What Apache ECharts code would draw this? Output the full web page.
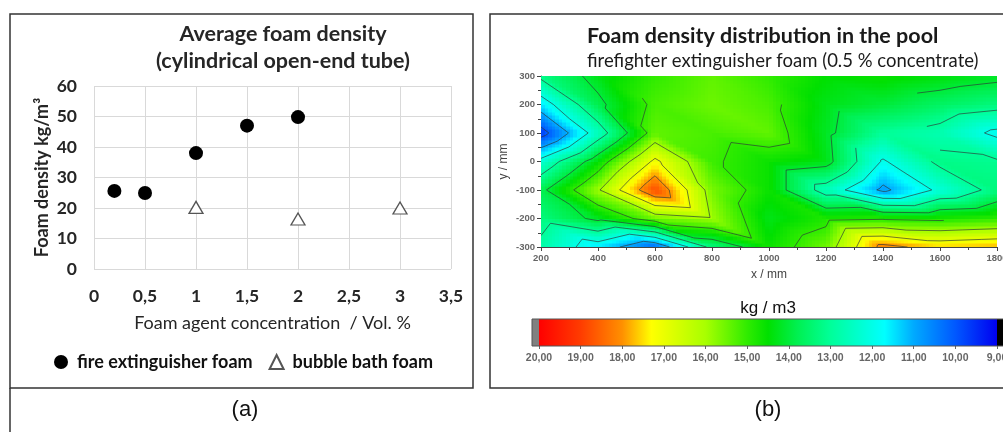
<!DOCTYPE html>
<html>
<head>
<meta charset="utf-8">
<script src="https://cdn.jsdelivr.net/npm/echarts@6/dist/echarts.min.js"></script>
<style>
  html, body { margin: 0; padding: 0; background: #fff; }
  #main { width: 1003px; height: 432px; }
</style>
</head>
<body>
<div id="main"></div>
<script>
// (a) average foam density, cylindrical open-end tube
var fireConc = [0.2, 0.5, 1, 1.5, 2];
var fireDensity = [25.6, 24.9, 38, 47, 49.8];
var bathConc = [1, 2, 3];
var bathDensity = [20.2, 16.4, 20];

// (b) foam density in the pool (kg/m3) at the measuring grid
var poolX = [200, 400, 600, 800, 1000, 1200, 1400, 1600, 1800];
var poolY = [300, 200, 100, 0, -100, -200, -300];
var rowY300 = [13.2, 14.3, 15.0, 15.4, 15.0, 14.5, 14.6, 14.4, 14.2];
var rowY200 = [11.5, 13.8, 15.2, 15.5, 15.2, 14.3, 14.0, 13.6, 13.3];
var rowY100 = [9.6, 12.5, 15.4, 15.2, 15.4, 14.2, 13.0, 12.7, 11.8];
var rowY0 = [12.3, 14.5, 17.2, 15.1, 14.6, 14.3, 11.9, 13.2, 13.1];
var rowYm100 = [13.8, 15.9, 18.8, 15.6, 14.6, 12.6, 10.8, 12.2, 13.3];
var rowYm200 = [13.3, 14.2, 15.5, 15.9, 14.3, 14.8, 14.9, 14.8, 15.0];
var rowYm300 = [12.8, 11.5, 10.2, 13.3, 14.6, 15.5, 18.3, 17.6, 17.8];
var poolDensity = [rowY300, rowY200, rowY100, rowY0, rowYm100, rowYm200, rowYm300];

var contourLevels = [10, 11, 12, 13, 14, 15, 16, 17, 18, 19];
var colorbarMin = 9;
var colorbarMax = 20;

// colour scale of the colour bar (value -> colour)
var colorStops = [
  [20, '#ff0000'], [19, '#ff3c00'], [18, '#ff9000'], [17.3, '#ffff00'],
  [16, '#a8ff00'], [15, '#30ec00'], [14.5, '#00e000'], [13.8, '#00f050'],
  [13, '#00ff99'], [11.7, '#00ffff'], [11, '#00aaff'], [10, '#0058ff'], [9, '#0000f0']
];

function hexRgb(h) {
  return [parseInt(h.substr(1, 2), 16), parseInt(h.substr(3, 2), 16), parseInt(h.substr(5, 2), 16)];
}
function colorOf(v) {
  if (v >= colorStops[0][0]) return colorStops[0][1];
  for (var k = 1; k < colorStops.length; k++) {
    var a = colorStops[k - 1], b = colorStops[k];
    if (v >= b[0]) {
      var t = (a[0] - v) / (a[0] - b[0]);
      var ca = hexRgb(a[1]), cb = hexRgb(b[1]);
      return 'rgb(' + Math.round(ca[0] + (cb[0] - ca[0]) * t) + ',' +
        Math.round(ca[1] + (cb[1] - ca[1]) * t) + ',' +
        Math.round(ca[2] + (cb[2] - ca[2]) * t) + ')';
    }
  }
  return colorStops[colorStops.length - 1][1];
}

// one item per grid cell: [x0, y0, x1, y1, v00, v10, v01, v11]
var cells = [];
for (var r = 0; r < poolY.length - 1; r++) {
  for (var c = 0; c < poolX.length - 1; c++) {
    cells.push([
      poolX[c], poolY[r + 1], poolX[c + 1], poolY[r],
      poolDensity[r + 1][c], poolDensity[r + 1][c + 1],
      poolDensity[r][c], poolDensity[r][c + 1]
    ]);
  }
}

function renderCell(params, api) {
  var v00 = api.value(4), v10 = api.value(5), v01 = api.value(6), v11 = api.value(7);
  var p0 = api.coord([api.value(0), api.value(1)]);
  var p1 = api.coord([api.value(2), api.value(3)]);
  var dx = p1[0] - p0[0], dy = p1[1] - p0[1];
  // linear interpolation on two triangles split along the top-left / bottom-right diagonal
  function val(u, v) {
    if (u + v <= 1) return v00 + u * (v10 - v00) + v * (v01 - v00);
    return v11 + (1 - u) * (v01 - v11) + (1 - v) * (v10 - v11);
  }
  var children = [];
  var nx = 16, ny = 8;
  for (var i = 0; i < nx; i++) {
    var xa = Math.round(p0[0] + dx * i / nx), xb = Math.round(p0[0] + dx * (i + 1) / nx);
    for (var j = 0; j < ny; j++) {
      var ya = Math.round(p0[1] + dy * j / ny), yb = Math.round(p0[1] + dy * (j + 1) / ny);
      children.push({
        type: 'rect',
        shape: { x: xa, y: Math.min(ya, yb), width: xb - xa + 0.5, height: Math.abs(yb - ya) + 0.5 },
        style: { fill: colorOf(val((i + 0.5) / nx, (j + 0.5) / ny)) },
        silent: true
      });
    }
  }
  var tris = [
    [[0, 0, v00], [1, 0, v10], [0, 1, v01]],
    [[1, 0, v10], [1, 1, v11], [0, 1, v01]]
  ];
  tris.forEach(function (t) {
    contourLevels.forEach(function (L) {
      var pts = [];
      for (var e = 0; e < 3; e++) {
        var a = t[e], b = t[(e + 1) % 3];
        if ((a[2] - L) * (b[2] - L) < 0) {
          var s = (L - a[2]) / (b[2] - a[2]);
          var u = a[0] + (b[0] - a[0]) * s, v = a[1] + (b[1] - a[1]) * s;
          pts.push([p0[0] + dx * u, p0[1] + dy * v]);
        }
      }
      if (pts.length === 2) {
        children.push({
          type: 'line',
          shape: { x1: pts[0][0], y1: pts[0][1], x2: pts[1][0], y2: pts[1][1] },
          style: { stroke: 'rgba(45,55,55,0.75)', lineWidth: 0.9 },
          silent: true
        });
      }
    });
  });
  return { type: 'group', children: children };
}

function renderColorbar(params, api) {
  var a = api.coord([colorbarMax, 0]);
  var b = api.coord([colorbarMin, 1]);
  var stops = colorStops.map(function (s) {
    return { offset: (colorbarMax - s[0]) / (colorbarMax - colorbarMin), color: s[1] };
  });
  var h = a[1] - b[1];
  return {
    type: 'group',
    children: [
      { type: 'rect', shape: { x: a[0] - 7, y: b[1], width: 7, height: h }, style: { fill: '#808080' } },
      { type: 'rect', shape: { x: b[0], y: b[1], width: 8, height: h }, style: { fill: '#000' } },
      {
        type: 'rect', shape: { x: a[0], y: b[1], width: b[0] - a[0], height: h },
        style: { fill: new echarts.graphic.LinearGradient(0, 0, 1, 0, stops) }
      },
      {
        type: 'rect', shape: { x: a[0] - 7, y: b[1], width: b[0] - a[0] + 15, height: h },
        style: { fill: 'none', stroke: '#555', lineWidth: 1 }
      }
    ]
  };
}

var calibri = 'Lato, "Noto Sans", sans-serif';
var arial = '"Liberation Sans", Arial, sans-serif';
var commaFmt = function (v) { return String(v).replace('.', ','); };
var plainFmt = function (v) { return String(v); };

var chart = echarts.init(document.getElementById('main'));
chart.setOption({
  backgroundColor: '#fff',
  animation: false,
  graphic: [
    { type: 'rect', shape: { x: 10, y: 14, width: 463, height: 374 }, style: { fill: 'none', stroke: '#333', lineWidth: 1.5 } },
    { type: 'rect', shape: { x: 490, y: 14, width: 530, height: 374 }, style: { fill: 'none', stroke: '#333', lineWidth: 1.5 } },
    { type: 'line', shape: { x1: 10, y1: 388, x2: 10, y2: 432 }, style: { stroke: '#333', lineWidth: 1.5 } },
    { type: 'text', x: 283, y: 34, style: { text: 'Average foam density', font: 'bold 21.5px ' + calibri, fill: '#262626', align: 'center', verticalAlign: 'middle' } },
    { type: 'text', x: 283, y: 61, style: { text: '(cylindrical open-end tube)', font: 'bold 21.5px ' + calibri, fill: '#262626', align: 'center', verticalAlign: 'middle' } },
    { type: 'text', x: 587, y: 36, style: { text: 'Foam density distribution in the pool', font: 'bold 21.5px ' + calibri, fill: '#1a1a1a', align: 'left', verticalAlign: 'middle' } },
    { type: 'text', x: 587, y: 61, style: { text: 'firefighter extinguisher foam (0.5 % concentrate)', font: '18.5px ' + calibri, fill: '#1a1a1a', align: 'left', verticalAlign: 'middle' } },
    { type: 'text', x: 768, y: 308, style: { text: 'kg / m3', font: '17px ' + arial, fill: '#111', align: 'center', verticalAlign: 'middle' } },
    { type: 'text', x: 245, y: 410, style: { text: '(a)', font: '22px ' + arial, fill: '#111', align: 'center', verticalAlign: 'middle' } },
    { type: 'text', x: 768, y: 410, style: { text: '(b)', font: '22px ' + arial, fill: '#111', align: 'center', verticalAlign: 'middle' } }
  ],
  legend: {
    left: 49, top: 348, itemGap: 16, itemWidth: 14, itemHeight: 14,
    textStyle: { fontFamily: calibri, fontWeight: 'bold', fontSize: 18, color: '#111', padding: [0, 0, 0, 4] },
    data: ['fire extinguisher foam', 'bubble bath foam']
  },
  grid: [
    { left: 94, top: 86, width: 357, height: 183, outerBoundsMode: 'none' },
    { left: 541, top: 76, width: 456, height: 171, outerBoundsMode: 'none' },
    { left: 539, top: 319, width: 458, height: 27, outerBoundsMode: 'none' }
  ],
  xAxis: [
    {
      gridIndex: 0, type: 'value', min: 0, max: 3.5, interval: 0.5,
      name: 'Foam agent concentration  / Vol. %', nameLocation: 'middle', nameGap: 45,
      nameTextStyle: { fontFamily: calibri, fontSize: 18, color: '#262626' },
      axisLine: { show: false }, axisTick: { show: false },
      axisLabel: { formatter: commaFmt, fontFamily: calibri, fontWeight: 'bold', fontSize: 17.5, color: '#262626', margin: 18 },
      splitLine: { lineStyle: { color: '#d9d9d9' } }
    },
    {
      gridIndex: 1, type: 'value', min: 200, max: 1800, interval: 200,
      name: 'x / mm', nameLocation: 'middle', nameGap: 22,
      nameTextStyle: { fontFamily: arial, fontSize: 12, color: '#444' },
      axisLine: { onZero: false, lineStyle: { color: '#444' } },
      axisTick: { length: 4, lineStyle: { color: '#444' } },
      minorTick: { show: true, splitNumber: 2, length: 3, lineStyle: { color: '#444' } },
      axisLabel: { formatter: plainFmt, fontFamily: arial, fontWeight: 'bold', fontSize: 9.5, color: '#666', margin: 6 },
      splitLine: { show: false }
    },
    {
      gridIndex: 2, type: 'value', min: colorbarMin, max: colorbarMax, interval: 1, inverse: true,
      axisLine: { show: false },
      axisTick: { length: 3, lineStyle: { color: '#666' } },
      axisLabel: { formatter: function (v) { return v.toFixed(2).replace('.', ','); }, fontFamily: arial, fontWeight: 'bold', fontSize: 10.5, color: '#666', margin: 7 },
      splitLine: { show: false }
    }
  ],
  yAxis: [
    {
      gridIndex: 0, type: 'value', min: 0, max: 60, interval: 10,
      name: 'Foam density kg/m³', nameLocation: 'middle', nameGap: 43,
      nameTextStyle: { fontFamily: calibri, fontWeight: 'bold', fontSize: 18, color: '#262626' },
      axisLine: { show: false }, axisTick: { show: false },
      axisLabel: { fontFamily: calibri, fontWeight: 'bold', fontSize: 17.5, color: '#262626', margin: 17 },
      splitLine: { lineStyle: { color: '#d9d9d9' } }
    },
    {
      gridIndex: 1, type: 'value', min: -300, max: 300, interval: 100,
      name: 'y / mm', nameLocation: 'middle', nameGap: 31,
      nameTextStyle: { fontFamily: arial, fontSize: 12, color: '#444' },
      axisLine: { onZero: false, lineStyle: { color: '#444' } },
      axisTick: { length: 4, lineStyle: { color: '#444' } },
      minorTick: { show: true, splitNumber: 2, length: 3, lineStyle: { color: '#444' } },
      axisLabel: { fontFamily: arial, fontWeight: 'bold', fontSize: 9.5, color: '#666', margin: 6 },
      splitLine: { show: false }
    },
    { gridIndex: 2, type: 'value', min: 0, max: 1, show: false }
  ],
  series: [
    {
      name: 'fire extinguisher foam', type: 'scatter', xAxisIndex: 0, yAxisIndex: 0,
      symbol: 'circle', symbolSize: 14,
      itemStyle: { color: '#000', opacity: 1 },
      data: fireConc.map(function (x, i) { return [x, fireDensity[i]]; })
    },
    {
      name: 'bubble bath foam', type: 'scatter', xAxisIndex: 0, yAxisIndex: 0,
      symbol: 'triangle', symbolSize: [14, 12],
      itemStyle: { color: '#fff', borderColor: '#555', borderWidth: 1.3, opacity: 1 },
      data: bathConc.map(function (x, i) { return [x, bathDensity[i]]; })
    },
    {
      type: 'custom', xAxisIndex: 1, yAxisIndex: 1, clip: true,
      renderItem: renderCell,
      encode: { x: [0, 2], y: [1, 3] },
      data: cells, z: 1
    },
    {
      type: 'custom', xAxisIndex: 2, yAxisIndex: 2,
      renderItem: renderColorbar,
      data: [[colorbarMin, colorbarMax]]
    }
  ]
});
</script>
</body>
</html>
